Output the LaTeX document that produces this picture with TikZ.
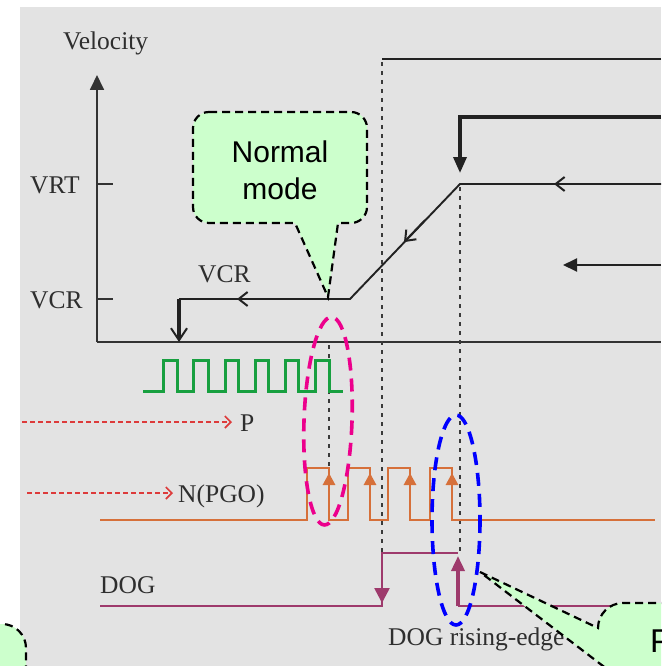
\documentclass[tikz,border=0pt]{standalone}
\usepackage{fontspec}
\setmainfont{Liberation Serif}
\newfontfamily\calloutfont{Liberation Sans}
\usetikzlibrary{arrows.meta}
\definecolor{bggray}{HTML}{E3E3E3}
\definecolor{callgreen}{HTML}{CCFFCC}
\definecolor{labelgray}{HTML}{2E2E2E}
\definecolor{axisgray}{HTML}{333333}
\definecolor{velblack}{HTML}{222222}
\definecolor{guidegray}{HTML}{3A3A3A}
\definecolor{pgreen}{HTML}{18A040}
\definecolor{porange}{HTML}{D6703A}
\definecolor{dogpurple}{HTML}{9E3A6C}
\definecolor{redarr}{HTML}{DD3B3B}
\begin{document}
\begin{tikzpicture}[x=1pt,y=-1pt,
  lbl/.style={font=\fontsize{25.5}{26}\selectfont, text=labelgray, inner sep=0pt, anchor=base west},
  calltext/.style={font=\calloutfont\fontsize{30}{30}\selectfont, inner sep=0pt, anchor=base},
  callout/.style={fill=callgreen, draw=black, line width=2.2pt, dash pattern=on 8pt off 5pt},
  axisline/.style={draw=axisgray, line width=1.8pt},
  velline/.style={draw=velblack, line width=1.9pt},
  thickline/.style={draw=velblack, line width=3.4pt},
  guide/.style={draw=guidegray, line width=2.4pt, dash pattern=on 4pt off 5pt},
  pulse/.style={draw=pgreen, line width=3pt},
  pgo/.style={draw=porange, line width=2.8pt},
  dog/.style={draw=dogpurple, line width=2.6pt},
  ptr/.style={draw=redarr, line width=1.5pt, dash pattern=on 5pt off 3pt},
  ring/.style={line width=3.6pt, dash pattern=on 13pt off 8pt},
  barb/.style={-{Straight Barb[length=9pt,width=14pt,line width=2pt]}},
]
\useasboundingbox (0,0) rectangle (661,666);
\clip (0,0) rectangle (661,666);
\fill[bggray] (20,7) rectangle (661,666);

% axes
\draw[axisline,-{Triangle[length=15pt,width=14pt]}] (97,342) -- (97,75);
\draw[axisline] (97,342) -- (661,342);
\draw[axisline] (97,184) -- (113,184);
\draw[axisline] (97,299) -- (113,299);
\node[lbl] (velocity) at (63,50) {Velocity};
\node[lbl] (vrt) at (30,193) {VRT};
\node[lbl] (vcrleft) at (30,308) {VCR};
\node[lbl] (vcrtop) at (198,282) {VCR};

% guide lines
\draw[guide] (382,62) -- (382,553);
\draw[guide] (460,187) -- (460,553);
\draw[guide] (329,345) -- (329,468);

% velocity profile
\draw[velline] (661,59) -- (382,59);
\draw[thickline,-{Triangle[length=16pt,width=13pt]}] (661,117) -- (460,117) -- (460,173);
\draw[velline] (661,184) -- (460,184) -- (350,299) -- (179,299);
\draw[velline,barb] (580,184) -- (554,184);
\draw[velline,barb] (425,220.1) -- (404,242.1);
\draw[velline,barb] (262,299) -- (237,299);
\draw[thickline,-{Straight Barb[length=12pt,width=16pt,line width=2pt]}] (179,299) -- (179,342);
\draw[velline,-{Triangle[length=14pt,width=13pt]}] (661,265) -- (563,265);

% P pulses
\draw[pulse] (143,391) -- (163,391) -- (163,360) -- (177,360) -- (177,391)
  -- (193,391) -- (193,360) -- (208,360) -- (208,391)
  -- (225,391) -- (225,360) -- (238,360) -- (238,391)
  -- (255,391) -- (255,360) -- (268,360) -- (268,391)
  -- (285,391) -- (285,360) -- (298,360) -- (298,391)
  -- (315,391) -- (315,360) -- (329,360) -- (329,391) -- (343,391);

% red pointers
\draw[ptr,-{Straight Barb[length=6pt,width=12pt,line width=1.6pt]}] (22,422) -- (232,422);
\node[lbl] (plabel) at (240,431) {P};
\draw[ptr,-{Straight Barb[length=6pt,width=12pt,line width=1.6pt]}] (27,493) -- (173,493);
\node[lbl] (pgolabel) at (178,502) {N(PGO)};

% PGO signal
\draw[pgo] (100,520) -- (307,520) -- (307,468) -- (329,468) -- (329,520)
  -- (348,520) -- (348,468) -- (370,468) -- (370,520)
  -- (388,520) -- (388,468) -- (410,468) -- (410,520)
  -- (430,520) -- (430,468) -- (452,468) -- (452,520) -- (655,520);
\foreach \px in {329,370,410,452}
  \draw[pgo,-{Triangle[length=12pt,width=12pt]}] (\px,505) -- (\px,473);

% DOG signal
\node[lbl] (doglabel) at (100,593) {DOG};
\draw[dog] (100,606) -- (382,606) -- (382,553) -- (458,553);
\draw[dog,-{Triangle[length=15pt,width=15pt]}] (382,570) -- (382,603);
\draw[dog] (458,606) -- (661,606);
\draw[dog,line width=3.5pt,-{Triangle[length=15pt,width=13pt]}] (458,606) -- (458,556);
\node[lbl] (rising) at (388,645) {DOG rising-edge};

% ellipses
\begin{scope}[shift={(328,421)},rotate=-2]
  \draw[ring,magenta] (0,0) ellipse [x radius=24, y radius=104];
\end{scope}
\draw[ring,blue] (456,520) ellipse [x radius=24, y radius=105];

% callouts
\draw[callout] (209,112) -- (351,112) arc[start angle=-90,end angle=0,radius=16]
  -- (367,207) arc[start angle=0,end angle=90,radius=16]
  -- (338,223) -- (328,297) -- (295,223) -- (209,223)
  arc[start angle=90,end angle=180,radius=16]
  -- (193,128) arc[start angle=180,end angle=270,radius=16] -- cycle;
\node[calltext] (normal1) at (280,162) {Normal};
\node[calltext] (normal2) at (280,199) {mode};

\draw[callout] (480,572) -- (598,628) arc[start angle=180,end angle=270,radius=25]
  -- (740,603) -- (740,760) -- (726,760) -- cycle;
\node[calltext,anchor=base west,font=\calloutfont\fontsize{33}{33}\selectfont] (rightcall) at (650,652) {P};

\draw[callout] (-60,624) -- (2,624) arc[start angle=-90,end angle=0,radius=24]
  -- (26,720) -- (-60,720) -- cycle;
\end{tikzpicture}
\end{document}
